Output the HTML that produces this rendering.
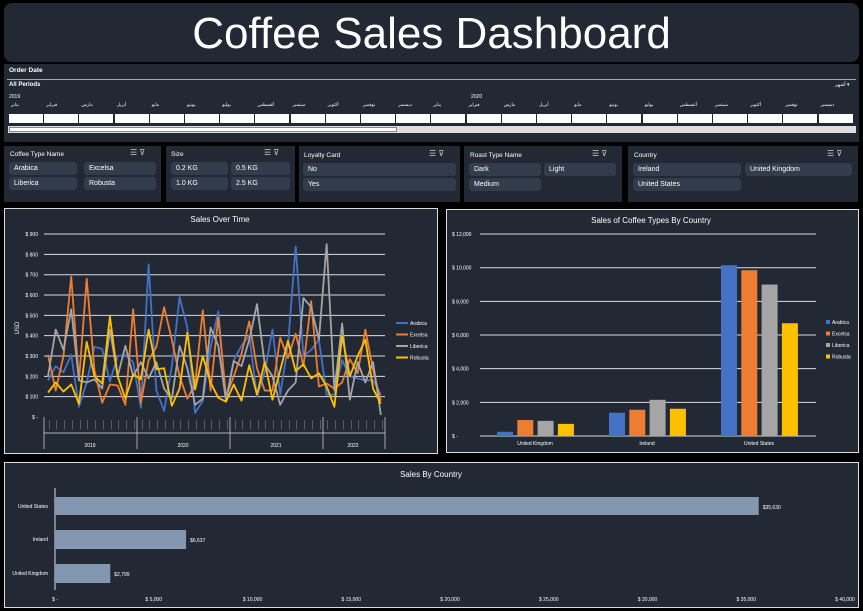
<!DOCTYPE html>
<html><head><meta charset="utf-8"><style>
*{margin:0;padding:0;box-sizing:border-box}
body{width:863px;height:611px;background:#000;position:relative;overflow:hidden;font-family:"Liberation Sans","DejaVu Sans",sans-serif;color:#fff}
.p{position:absolute;background:#222834}
.t{position:absolute;font-size:7px;color:#fff;white-space:nowrap}
.b{position:absolute;background:#333c4c;border-radius:3px;font-size:7px;color:#fff;padding:3px 0 0 5px;height:13px}
.ic{position:absolute;font-size:8px;color:#ccc}
</style></head><body>
<div class="p" style="left:4px;top:3px;width:855px;height:59px;border-radius:8px"></div>
<div class="t" style="left:0;width:863px;text-align:center;top:9px;font-size:44px;font-family:'Liberation Sans',sans-serif">Coffee Sales Dashboard</div>

<div class="p" style="left:4px;top:64px;width:855px;height:78px"></div>
<div class="t" style="left:9px;top:67px;font-weight:bold;font-size:6.5px">Order Date</div>
<div style="position:absolute;left:7px;top:79px;width:849px;height:1px;background:#aaa"></div>
<div class="t" style="left:9px;top:82px;font-size:6px;font-weight:bold">All Periods</div>
<div class="t" style="left:835px;top:82px;font-size:5px">أشهر ▾</div>
<div class="t" style="left:9px;top:94px;font-size:5px">2019</div>
<div class="t" style="left:471px;top:94px;font-size:5px">2020</div>
<div id="tl"></div>
<div style="position:absolute;left:8px;top:126px;width:848px;height:7px;background:#ddd"></div>
<div style="position:absolute;left:9px;top:127px;width:388px;height:5px;background:#fff;border:1px solid #888"></div>

<div class="p" style="left:4px;top:146px;width:157px;height:56px"></div>
<div class="t" style="left:10px;top:151px;font-size:6.5px">Coffee Type Name</div>
<div class="ic" style="left:130px;top:148px">☰ ⊽</div>
<div class="b" style="left:9px;top:162px;width:68px">Arabica</div><div class="b" style="left:84px;top:162px;width:72px">Excelsa</div>
<div class="b" style="left:9px;top:177px;width:68px">Liberica</div><div class="b" style="left:84px;top:177px;width:72px">Robusta</div>
<div class="p" style="left:166px;top:146px;width:129px;height:56px"></div>
<div class="t" style="left:171px;top:151px;font-size:6.5px">Size</div>
<div class="ic" style="left:264px;top:148px">☰ ⊽</div>
<div class="b" style="left:171px;top:162px;width:57px">0.2 KG</div><div class="b" style="left:231px;top:162px;width:59px">0.5 KG</div>
<div class="b" style="left:171px;top:177px;width:57px">1.0 KG</div><div class="b" style="left:231px;top:177px;width:59px">2.5 KG</div>
<div class="p" style="left:299px;top:146px;width:161px;height:56px"></div>
<div class="t" style="left:304px;top:152px;font-size:6.5px">Loyalty Card</div>
<div class="ic" style="left:429px;top:149px">☰ ⊽</div>
<div class="b" style="left:303px;top:163px;width:153px">No</div>
<div class="b" style="left:303px;top:178px;width:153px">Yes</div>
<div class="p" style="left:464px;top:146px;width:158px;height:56px"></div>
<div class="t" style="left:470px;top:152px;font-size:6.5px">Roast Type Name</div>
<div class="ic" style="left:592px;top:149px">☰ ⊽</div>
<div class="b" style="left:469px;top:163px;width:72px">Dark</div><div class="b" style="left:544px;top:163px;width:72px">Light</div>
<div class="b" style="left:469px;top:178px;width:72px">Medium</div>
<div class="p" style="left:628px;top:146px;width:230px;height:56px"></div>
<div class="t" style="left:634px;top:152px;font-size:6.5px">Country</div>
<div class="ic" style="left:827px;top:149px">☰ ⊽</div>
<div class="b" style="left:633px;top:163px;width:108px">Ireland</div><div class="b" style="left:745px;top:163px;width:107px">United Kingdom</div>
<div class="b" style="left:633px;top:178px;width:108px">United States</div>

<svg style="position:absolute;left:0;top:0" width="863" height="611" font-family="Liberation Sans,sans-serif" fill="#fff">
<rect x="4.5" y="208.5" width="433" height="245" fill="#222834" stroke="#ddd"/>
<rect x="446.5" y="209.5" width="412" height="243" fill="#222834" stroke="#ddd"/>
<rect x="4.5" y="462.5" width="854" height="145" fill="#222834" stroke="#ddd"/>
<text x="220" y="222" font-size="8" text-anchor="middle">Sales Over Time</text>
<text x="651" y="223" font-size="8" text-anchor="middle">Sales of Coffee Types By Country</text>
<text x="431" y="477" font-size="8" text-anchor="middle">Sales By Country</text>
<g id="lc"></g><g id="bc"></g><g id="hc"></g>
</svg>
<script>
var NS="http://www.w3.org/2000/svg";
function el(p,t,a,txt){var e=document.createElementNS(NS,t);for(var k in a)e.setAttribute(k,a[k]);if(txt!=null)e.textContent=txt;document.getElementById(p).appendChild(e);return e;}
var tl=document.getElementById('tl'),m=["يناير","فبراير","مارس","أبريل","مايو","يونيو","يوليو","أغسطس","سبتمبر","أكتوبر","نوفمبر","ديسمبر"];
for(var i=0;i<24;i++){var x=9+i*35.2;tl.innerHTML+='<div style="position:absolute;left:'+x+'px;top:114px;width:34px;height:9px;background:#fff"></div><div class="t" style="left:'+(x+2)+'px;top:103px;font-size:4.5px;font-family:DejaVu Sans,sans-serif">'+m[i%12]+'</div>';}
var y0=417,sc=0.2033;
for(var v=0;v<=900;v+=100){var y=y0-v*sc;if(v>0)el('lc','line',{x1:44,x2:385,y1:y,y2:y,stroke:'#ddd','stroke-width':1});el('lc','text',{x:38,y:y+2,'font-size':5,'text-anchor':'end'},v?'$ '+v:'$ -');}
el('lc','text',{x:19,y:328,'font-size':6,transform:'rotate(-90 19 328)','text-anchor':'middle'},'USD');
[44,137,230,323,385].forEach(function(x){el('lc','line',{x1:x,x2:x,y1:417,y2:449,stroke:'#ddd','stroke-width':0.7});});
el('lc','line',{x1:44,x2:385,y1:433,y2:433,stroke:'#ddd','stroke-width':0.7});
[[90,'2019'],[183,'2020'],[276,'2021'],[353,'2022']].forEach(function(a){el('lc','text',{x:a[0],y:447,'font-size':5,'text-anchor':'middle'},a[1]);});
for(var i=0;i<44;i++){el('lc','text',{x:48+i*7.74,y:420,'font-size':4,transform:'rotate(90 '+(48+i*7.74)+' 420)'},'~~~~');}
var D={"#4472c4":[180,250,220,305,50,170,345,335,175,300,305,270,45,750,130,30,250,590,440,20,80,340,520,90,280,350,400,100,220,430,110,350,840,300,330,380,110,110,280,200,190,180,180,110],
"#ed7d31":[305,130,300,690,180,680,230,70,160,155,60,530,70,280,345,540,380,200,90,160,525,130,490,100,200,310,470,240,130,130,390,290,410,250,570,150,165,140,170,285,215,430,230,80],
"#a5a5a5":[200,430,330,530,180,170,185,140,430,200,350,200,270,190,270,140,90,350,240,60,90,440,350,80,275,250,380,555,260,200,60,130,170,585,540,380,850,130,460,85,270,170,270,10],
"#ffc000":[120,170,125,160,65,370,200,165,495,200,90,210,185,430,235,240,55,140,415,135,300,170,95,75,160,80,255,110,270,85,230,375,225,260,190,215,150,50,400,200,300,380,140,65]};
var names=["Arabica","Excelsa","Liberica","Robusta"],cols=Object.keys(D);
cols.forEach(function(c,j){el('lc','polyline',{points:D[c].map(function(v,i){return (48+i*7.74)+','+(y0-v*sc)}).join(' '),fill:'none',stroke:c,'stroke-width':1.8,'stroke-linejoin':'round'});
el('lc','line',{x1:396,x2:408,y1:323+j*11.5,y2:323+j*11.5,stroke:c,'stroke-width':2});el('lc','text',{x:410,y:325+j*11.5,'font-size':5},names[j]);
el('bc','rect',{x:826,y:320+j*11.5,width:4,height:4,fill:c});el('bc','text',{x:832,y:324+j*11.5,'font-size':5},names[j]);});
var b0=436,bs=168.3/10000;
for(var v=0;v<=12000;v+=2000){var y=b0-v*bs;el('bc','line',{x1:480,x2:816,y1:y,y2:y,stroke:'#ddd','stroke-width':1});el('bc','text',{x:452,y:y+2,'font-size':5},v?'$ '+(v/1000)+','+'000':'$ -');}
var BV=[[250,950,900,720],[1380,1560,2150,1620],[10150,9850,9000,6700]],gx=[497,609,721],gl=["United Kingdom","Ireland","United States"];
BV.forEach(function(g,k){g.forEach(function(v,j){el('bc','rect',{x:gx[k]+j*20.3,y:b0-v*bs,width:16,height:v*bs,fill:cols[j]});});el('bc','text',{x:gx[k]+38,y:445,'font-size':5,'text-anchor':'middle'},gl[k]);});
var hs=790/40000;
el('hc','line',{x1:55,x2:55,y1:488,y2:590,stroke:'#ddd','stroke-width':1});
[[35630,'$35,630',497,'United States'],[6637,'$6,637',530,'Ireland'],[2799,'$2,799',564,'United Kingdom']].forEach(function(a){el('hc','rect',{x:55,y:a[2],width:a[0]*hs,height:a[2]==497?18:19,fill:'#8497b0'});el('hc','text',{x:59+a[0]*hs,y:a[2]+12,'font-size':5},a[1]);el('hc','text',{x:48,y:a[2]+11,'font-size':5,'text-anchor':'end'},a[3]);});
for(var v=0;v<=40000;v+=5000){el('hc','text',{x:55+v*hs,y:601,'font-size':5,'text-anchor':'middle'},v?'$ '+(v/1000)+',000':'$ -');}
</script>
</body></html>
